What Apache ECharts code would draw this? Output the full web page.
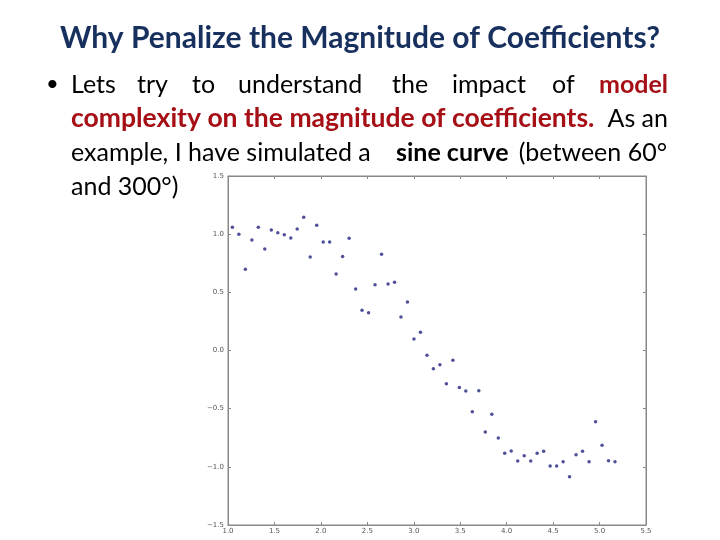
<!DOCTYPE html>
<html>
<head>
<meta charset="utf-8">
<script src="https://cdn.jsdelivr.net/npm/echarts@6/dist/echarts.min.js"></script>
<style>
  html, body { margin: 0; padding: 0; background: #fff; }
  #main { width: 720px; height: 540px; }
</style>
</head>
<body>
<div id="main"></div>
<script>
// x in radians (60 deg .. 300 deg), y
var xVals = [1.047, 1.117, 1.187, 1.257, 1.326, 1.396, 1.466, 1.536, 1.606, 1.676,
  1.745, 1.815, 1.885, 1.955, 2.025, 2.094, 2.164, 2.234, 2.304, 2.374,
  2.443, 2.513, 2.583, 2.653, 2.723, 2.793, 2.862, 2.932, 3.002, 3.072,
  3.142, 3.211, 3.281, 3.351, 3.421, 3.491, 3.560, 3.630, 3.700, 3.770,
  3.840, 3.910, 3.979, 4.049, 4.119, 4.189, 4.259, 4.328, 4.398, 4.468,
  4.538, 4.608, 4.677, 4.747, 4.817, 4.887, 4.957, 5.027, 5.096, 5.166];
var yVals = [1.059, 1.00, 0.698, 0.95, 1.059, 0.873, 1.036, 1.013, 0.996, 0.967,
  1.045, 1.145, 0.804, 1.076, 0.933, 0.933, 0.658, 0.807, 0.965, 0.529,
  0.346, 0.325, 0.566, 0.827, 0.572, 0.586, 0.288, 0.417, 0.099, 0.156,
  -0.040, -0.156, -0.122, -0.285, -0.084, -0.317, -0.348, -0.526, -0.345, -0.701,
  -0.549, -0.752, -0.884, -0.864, -0.950, -0.904, -0.950, -0.884, -0.867, -0.993,
  -0.993, -0.956, -1.085, -0.896, -0.867, -0.956, -0.612, -0.815, -0.947, -0.956];
var xTicks = [1.0, 1.5, 2.0, 2.5, 3.0, 3.5, 4.0, 4.5, 5.0, 5.5];
var yTicks = [-1.5, -1.0, -0.5, 0.0, 0.5, 1.0, 1.5];

var points = [];
for (var i = 0; i < xVals.length; i++) {
  points.push([xVals[i], yVals[i]]);
}

var chart = echarts.init(document.getElementById("main"));

function fmt(v) {
  return v.toFixed(1).replace("-", "\u2212");
}

var FONT = "Lato";
var bodySize = 25;

// slide text, pieces placed where they sit on the slide
function word(txt, x, y, opts) {
  opts = opts || {};
  return {
    type: "text",
    left: opts.right ? null : x,
    right: opts.right ? 720 - x : null,
    top: y,
    style: {
      text: txt,
      font: (opts.bold ? "bold " : "") + (opts.size || bodySize) + "px " + FONT,
      fill: opts.color || "#000",
    },
  };
}

var red = "#a50f15";
var lineY = [72, 106, 140, 174];

var graphics = [
  {
    type: "text",
    left: "center",
    top: 23,
    style: {
      text: "Why Penalize the Magnitude of Coefficients?",
      font: "bold 30px " + FONT,
      fill: "#17305e",
    },
  },
  word("\u2022", 46, lineY[0] + 1, { size: 22 }),
  word("Lets", 71, lineY[0]),
  word("try", 137, lineY[0]),
  word("to", 192, lineY[0]),
  word("understand", 238, lineY[0]),
  word("the", 392, lineY[0]),
  word("impact", 452, lineY[0]),
  word("of", 552, lineY[0]),
  word("model", 668, lineY[0], { bold: true, color: red, right: true }),
  word("complexity on the magnitude of coefficients.", 71, lineY[1] - 1, { bold: true, color: red, size: 26.5 }),
  word("As an", 668, lineY[1], { right: true }),
  word("example, I have simulated a", 71, lineY[2]),
  word("sine curve", 396, lineY[2], { bold: true }),
  word("(between 60\u00b0", 667, lineY[2], { right: true }),
  word("and 300\u00b0)", 71, lineY[3]),
];

var axisGray = "#888";
var labelStyle = { color: "#555", fontSize: 7, fontFamily: "DejaVu Sans" };

var option = {
  backgroundColor: "#fff",
  animation: false,
  graphic: graphics,
  grid: {
    left: 228,
    top: 176,
    right: 74,
    bottom: 15,
    show: true,
    borderColor: axisGray,
    borderWidth: 1,
    backgroundColor: "#fff",
  },
  xAxis: [
    {
      type: "value",
      min: 1.0,
      max: 5.5,
      interval: 0.5,
      axisLine: { show: true, onZero: false, lineStyle: { color: axisGray } },
      axisTick: { show: true, inside: true, length: 3, lineStyle: { color: axisGray } },
      axisLabel: Object.assign({ margin: 3, formatter: fmt }, labelStyle),
      splitLine: { show: false },
    },
    {
      type: "value",
      position: "top",
      min: 1.0,
      max: 5.5,
      interval: 0.5,
      axisLine: { show: true, onZero: false, lineStyle: { color: axisGray } },
      axisTick: { show: true, inside: true, length: 3, lineStyle: { color: axisGray } },
      axisLabel: { show: false },
      splitLine: { show: false },
    },
  ],
  yAxis: [
    {
      type: "value",
      min: -1.5,
      max: 1.5,
      interval: 0.5,
      axisLine: { show: true, onZero: false, lineStyle: { color: axisGray } },
      axisTick: { show: true, inside: true, length: 3, lineStyle: { color: axisGray } },
      axisLabel: Object.assign({ margin: 4, formatter: fmt }, labelStyle),
      splitLine: { show: false },
    },
    {
      type: "value",
      position: "right",
      min: -1.5,
      max: 1.5,
      interval: 0.5,
      axisLine: { show: true, onZero: false, lineStyle: { color: axisGray } },
      axisTick: { show: true, inside: true, length: 3, lineStyle: { color: axisGray } },
      axisLabel: { show: false },
      splitLine: { show: false },
    },
  ],
  series: [
    {
      type: "scatter",
      data: points,
      symbol: "circle",
      symbolSize: 3.5,
      itemStyle: { color: "#24247f" },
    },
  ],
};

chart.setOption(option);
</script>
</body>
</html>
